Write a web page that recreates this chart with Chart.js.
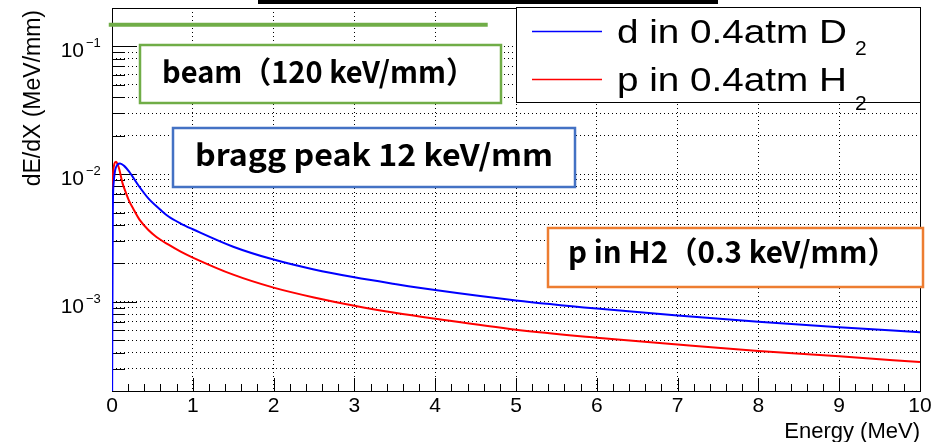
<!DOCTYPE html>
<html>
<head>
<meta charset="utf-8">
<script src="https://cdn.jsdelivr.net/npm/chart.js@4.4.0/dist/chart.umd.min.js"></script>
<style>
body { margin: 0; background: #fff; }
canvas { display: block; }
</style>
</head>
<body>
<canvas id="mycanvas" width="940" height="442"></canvas>
<script>
// d in 0.4atm D2 (blue)
var energyD = [0, 0.01, 0.02, 0.04, 0.07, 0.1, 0.15, 0.21, 0.33, 0.45, 0.6, 0.7, 0.85, 1, 1.5, 2, 2.5, 3, 3.5, 4, 5, 6, 7, 8, 9, 10];
var dedxD = [1e-4, 5.0e-3, 8.5e-3, 1.08e-2, 1.19e-2, 1.21e-2, 1.16e-2, 1.05e-2, 8.1e-3, 6.45e-3, 5.25e-3, 4.65e-3, 4.1e-3, 3.7e-3, 2.7e-3, 2.14e-3, 1.79e-3, 1.555e-3, 1.38e-3, 1.235e-3, 1.025e-3, 8.85e-4, 7.8e-4, 6.98e-4, 6.32e-4, 5.78e-4];

// p in 0.4atm H2 (red)
var energyP = [0, 0.015, 0.03, 0.05, 0.07, 0.09, 0.13, 0.17, 0.21, 0.26, 0.34, 0.45, 0.55, 0.7, 0.85, 1, 1.5, 2, 2.5, 3, 3.5, 4, 5, 6, 7, 8, 9, 10];
var dedxP = [7.6e-3, 1.05e-2, 1.21e-2, 1.25e-2, 1.19e-2, 1.09e-2, 8.5e-3, 7.2e-3, 6.2e-3, 5.4e-3, 4.4e-3, 3.65e-3, 3.22e-3, 2.8e-3, 2.47e-3, 2.22e-3, 1.63e-3, 1.29e-3, 1.08e-3, 9.3e-4, 8.2e-4, 7.36e-4, 6.04e-4, 5.23e-4, 4.62e-4, 4.11e-4, 3.74e-4, 3.37e-4];

// green beam line
var beamE = [-0.04, 4.65];
var beamLevel = 0.148;

var seriesLabels = ['d in 0.4atm D', 'p in 0.4atm H'];
var seriesSubs = ['2', '2'];
var boxTexts = ['beam\uff08120 keV/mm\uff09', 'bragg peak 12 keV/mm', 'p in H2\uff080.3 keV/mm\uff09'];

var xTicks = [0, 1, 2, 3, 4, 5, 6, 7, 8, 9, 10];
var yMajor = [1e-3, 1e-2, 1e-1];
var yMajorExp = ['\u22123', '\u22122', '\u22121'];
var yMin = 2e-4, yMax = 0.2;

var yTicks = [];
for (var e = -4; e <= -1; e++) {
  for (var m = 1; m <= 9; m++) {
    var v = m * Math.pow(10, e);
    if (v >= yMin * 0.999 && v <= yMax * 1.001) yTicks.push(v);
  }
}

function isMajor(v) {
  for (var i = 0; i < yMajor.length; i++) {
    if (Math.abs(v / yMajor[i] - 1) < 1e-6) return true;
  }
  return false;
}

var FONT = '"Liberation Sans", Arial, sans-serif';
var JFONT = '"Noto Sans CJK JP", "Noto Sans", sans-serif';

// draw text squeezed/stretched to a given width
function fitText(ctx, txt, x, y, w) {
  var w0 = ctx.measureText(txt).width;
  ctx.save();
  ctx.translate(x, y);
  ctx.scale(w / w0, 1);
  ctx.fillText(txt, 0, 0);
  ctx.restore();
}

var rootFrame = {
  id: 'rootFrame',
  beforeDatasetsDraw: function(chart) {
    var ctx = chart.ctx, a = chart.chartArea;
    var xs = chart.scales.x, ys = chart.scales.y;
    ctx.save();
    ctx.strokeStyle = '#000';
    ctx.lineWidth = 1;
    ctx.strokeRect(Math.round(a.left) + 0.5, Math.round(a.top) + 0.5,
      Math.round(a.right - a.left), Math.round(a.bottom - a.top));
    ctx.beginPath();
    for (var i = 0; i <= 50; i++) {
      var px = Math.round(xs.getPixelForValue(i * 0.2)) + 0.5;
      var len = (i % 5 === 0) ? 13 : 7;
      ctx.moveTo(px, a.bottom);
      ctx.lineTo(px, a.bottom - len);
    }
    yTicks.forEach(function(v) {
      var py = Math.round(ys.getPixelForValue(v)) + 0.5;
      var len = isMajor(v) ? 25 : 13;
      ctx.moveTo(a.left, py);
      ctx.lineTo(a.left + len, py);
    });
    ctx.stroke();
    ctx.restore();
  },
  afterDraw: function(chart) {
    var ctx = chart.ctx, a = chart.chartArea;
    var xs = chart.scales.x, ys = chart.scales.y;
    ctx.save();
    ctx.fillStyle = '#000';
    ctx.textBaseline = 'alphabetic';

    // x tick labels
    ctx.font = '21px ' + FONT;
    ctx.textAlign = 'center';
    xTicks.forEach(function(t) {
      ctx.fillText(String(t), xs.getPixelForValue(t), a.bottom + 21);
    });

    // y tick labels 10^n
    yMajor.forEach(function(v, i) {
      var py = ys.getPixelForValue(v);
      ctx.font = '21px ' + FONT;
      ctx.textAlign = 'right';
      ctx.fillText('10', a.left - 28, py + 11);
      ctx.font = '13px ' + FONT;
      ctx.textAlign = 'left';
      ctx.fillText(yMajorExp[i], a.left - 26, py + 1);
    });

    // axis titles
    ctx.font = '22px ' + FONT;
    ctx.textAlign = 'right';
    ctx.fillText('Energy (MeV)', a.right, 438);
    ctx.save();
    ctx.translate(40, 10);
    ctx.rotate(-Math.PI / 2);
    ctx.font = '23px ' + FONT;
    ctx.textAlign = 'right';
    ctx.fillText('dE/dX (MeV/mm)', 0, 0);
    ctx.restore();

    // legend
    ctx.fillStyle = '#fff';
    ctx.fillRect(517, 8, 403, 95);
    ctx.strokeStyle = '#000';
    ctx.lineWidth = 1;
    ctx.strokeRect(516.5, 7.5, 404, 95);
    var rows = [{ly: 31.5, base: 42.5, subBase: 55}, {ly: 79.5, base: 90.5, subBase: 110}];
    chart.data.datasets.slice(0, 2).forEach(function(ds, i) {
      var r = rows[i];
      ctx.strokeStyle = ds.borderColor;
      ctx.lineWidth = 1.5;
      ctx.beginPath();
      ctx.moveTo(532, r.ly);
      ctx.lineTo(602, r.ly);
      ctx.stroke();
      ctx.fillStyle = '#000';
      ctx.font = '34px ' + FONT;
      ctx.textAlign = 'left';
      fitText(ctx, seriesLabels[i], 617, r.base, 230);
      ctx.font = '21px ' + FONT;
      ctx.fillText(seriesSubs[i], 855, r.subBase);
    });

    // annotation boxes
    var boxes = [
      {x: 140, y: 45, w: 361, h: 58, color: '#70ad47', base: 83, tx: 162, tw: 313},
      {x: 173, y: 128, w: 402, h: 59, color: '#4472c4', base: 166, tx: 195, tw: 358},
      {x: 548, y: 228, w: 375, h: 59, color: '#ed7d31', base: 263, tx: 568, tw: 329}
    ];
    boxes.forEach(function(b, i) {
      ctx.fillStyle = '#fff';
      ctx.fillRect(b.x, b.y, b.w, b.h);
      ctx.strokeStyle = b.color;
      ctx.lineWidth = 2.5;
      ctx.strokeRect(b.x, b.y, b.w, b.h);
      ctx.fillStyle = '#000';
      ctx.font = 'bold 30px ' + JFONT;
      ctx.textAlign = 'left';
      fitText(ctx, boxTexts[i], b.tx, b.base, b.tw);
    });

    // cropped black bar at the top
    ctx.fillStyle = '#000';
    ctx.fillRect(258, 0, 460, 4);
    ctx.restore();
  }
};

var ctx = document.getElementById('mycanvas');

var chart = new Chart(ctx, {
  type: 'line',
  data: {
    datasets: [
      {
        label: seriesLabels[0],
        data: energyD.map(function(x, i) { return {x: x, y: dedxD[i]}; }),
        borderColor: '#0000ff',
        borderWidth: 2,
        pointRadius: 0,
        cubicInterpolationMode: 'monotone',
        fill: false
      },
      {
        label: seriesLabels[1],
        data: energyP.map(function(x, i) { return {x: x, y: dedxP[i]}; }),
        borderColor: '#ff0000',
        borderWidth: 2,
        pointRadius: 0,
        cubicInterpolationMode: 'monotone',
        fill: false
      },
      {
        label: 'beam',
        data: beamE.map(function(x) { return {x: x, y: beamLevel}; }),
        borderColor: '#70ad47',
        borderWidth: 4,
        pointRadius: 0,
        clip: false,
        fill: false
      }
    ]
  },
  options: {
    responsive: false,
    animation: false,
    events: [],
    layout: { padding: { left: 112, top: 8, right: 20, bottom: 51 } },
    plugins: { legend: { display: false }, tooltip: { enabled: false } },
    scales: {
      x: {
        type: 'linear', min: 0, max: 10,
        ticks: { display: false, stepSize: 1 },
        grid: { color: '#000', lineWidth: 1, drawTicks: false },
        border: { display: false, dash: [1, 3] }
      },
      y: {
        type: 'logarithmic', min: yMin, max: yMax,
        afterBuildTicks: function(scale) {
          scale.ticks = yTicks.map(function(v) { return {value: v}; });
        },
        ticks: { display: false },
        grid: { color: '#000', lineWidth: 1, drawTicks: false },
        border: { display: false, dash: [1, 3] }
      }
    }
  },
  plugins: [rootFrame]
});
</script>
</body>
</html>
